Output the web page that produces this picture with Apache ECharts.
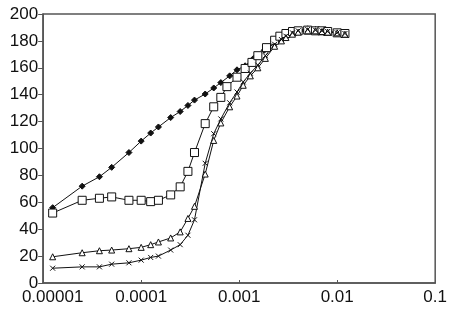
<!DOCTYPE html>
<html>
<head>
<meta charset="utf-8">
<script src="https://cdn.jsdelivr.net/npm/echarts@6/dist/echarts.min.js"></script>
<style>
  html, body { margin: 0; padding: 0; background: #fff; }
  #chart { width: 450px; height: 310px; }
</style>
</head>
<body>
<div id="chart"></div>
<script>
// tick labels
var xTickLabels = ['0.00001', '0.0001', '0.001', '0.01', '0.1'];
var yTicks = [0, 20, 40, 60, 80, 100, 120, 140, 160, 180, 200];

// diamonds (filled)
var diamondX = [1.25e-5, 2.5e-5, 3.75e-5, 5e-5, 7.5e-5, 1e-4, 1.25e-4, 1.5e-4, 2e-4, 2.5e-4, 3e-4, 3.5e-4, 4.5e-4, 5.5e-4, 6.5e-4, 8e-4, 9.5e-4, 1.15e-3, 1.4e-3, 1.8e-3, 2.3e-3, 2.8e-3, 3.5e-3, 4e-3, 5e-3, 6e-3, 7e-3, 8e-3, 1e-2, 1.2e-2];
var diamondY = [56, 72, 79, 86, 97, 105.5, 111.5, 116, 123, 127.5, 132, 136, 140.5, 145, 149, 154, 158.5, 161.5, 167, 173, 178, 183, 186, 188, 189, 188.5, 188, 187, 186, 185];

// squares (open)
var squareX = [1.25e-5, 2.5e-5, 3.75e-5, 5e-5, 7.5e-5, 1e-4, 1.25e-4, 1.5e-4, 2e-4, 2.5e-4, 3e-4, 3.5e-4, 4.5e-4, 5.5e-4, 6.5e-4, 7.5e-4, 9.5e-4, 1.15e-3, 1.35e-3, 1.55e-3, 1.9e-3, 2.3e-3, 2.6e-3, 3e-3, 3.5e-3, 4e-3, 5e-3, 6e-3, 7e-3, 8e-3, 1e-2, 1.2e-2];
var squareY = [52, 61.5, 63, 64, 61.5, 61.5, 60.5, 61.5, 65.5, 71.5, 83, 97, 118.5, 131, 138, 146, 153, 159.5, 164, 169, 175, 180.5, 183.5, 185.5, 187, 187.5, 188, 187.5, 187.5, 187, 186, 185.5];

// triangles and crosses share x positions
var lowX = [1.25e-5, 2.5e-5, 3.75e-5, 5e-5, 7.5e-5, 1e-4, 1.25e-4, 1.5e-4, 2e-4, 2.5e-4, 3e-4, 3.5e-4, 4.5e-4, 5.5e-4, 6.5e-4, 8e-4, 9.5e-4, 1.1e-3, 1.3e-3, 1.55e-3, 1.85e-3, 2.3e-3, 2.7e-3, 3e-3, 3.5e-3, 4e-3, 5e-3, 6e-3, 7e-3, 8e-3, 1e-2, 1.2e-2];
var triangleY = [19.5, 22.5, 24, 24.5, 25.5, 26.5, 28.5, 30.5, 33.5, 38, 48, 57, 81, 106, 119, 131, 139, 147, 154, 160, 167, 176, 180, 182.5, 185, 186.5, 187.5, 187.5, 187, 186.5, 186, 185];
var crossY = [11, 12, 12, 14, 15, 17, 19, 20, 24.5, 28.5, 35.5, 47, 89, 111, 122, 134, 142, 149.5, 156, 162, 169, 177.5, 181, 183.5, 186, 187.5, 188.5, 188, 187.5, 187, 186, 185.5];

function pairs(xs, ys) {
	return xs.map(function(x, i) { return [x, ys[i]]; });
}

var font = 'Liberation Sans, Arial, sans-serif';
var lineStyle = { color: '#111', width: 1 };

function makeSeries(name, xs, ys, symbol, size, fill) {
	return {
		name: name,
		type: 'line',
		data: pairs(xs, ys),
		symbol: symbol,
		symbolSize: size,
		showAllSymbol: true,
		lineStyle: lineStyle,
		itemStyle: { color: fill, borderColor: '#111', borderWidth: 1 },
		emphasis: { disabled: true },
		z: 3
	};
}

var myChart = echarts.init(document.getElementById('chart'), null, { renderer: 'canvas' });
var option = {
	animation: false,
	backgroundColor: '#fff',
	grid: {
		left: 38,
		right: 11,
		top: 14,
		bottom: 27,
		show: true,
		borderColor: '#555',
		borderWidth: 1.5
	},
	xAxis: {
		type: 'log',
		logBase: 10,
		min: 0.00001,
		max: 0.1,
		axisLine: { show: true, lineStyle: { color: '#555', width: 1.5 } },
		axisTick: { show: true, inside: true, length: 3, lineStyle: { color: '#555' } },
		minorTick: { show: false },
		splitLine: { show: false },
		axisLabel: {
			color: '#111',
			fontSize: 17,
			fontFamily: font,
			margin: 6,
			formatter: function(v) {
				var i = Math.round(Math.log10(v)) + 5;
				// first label sits a little right of its tick, as in the source
				if (i === 0) return '    ' + xTickLabels[0];
				return xTickLabels[i];
			}
		}
	},
	yAxis: {
		type: 'value',
		min: yTicks[0],
		max: yTicks[yTicks.length - 1],
		interval: 20,
		axisLine: { show: true, lineStyle: { color: '#555', width: 1.5 } },
		axisTick: { show: true, inside: false, length: 5, lineStyle: { color: '#555' } },
		splitLine: { show: false },
		axisLabel: {
			color: '#111',
			fontSize: 17,
			fontFamily: font,
			margin: 5
		}
	},
	series: [
		makeSeries('diamond', diamondX, diamondY, 'diamond', 6, '#111'),
		makeSeries('square', squareX, squareY, 'rect', 8, '#fff'),
		makeSeries('triangle', lowX, triangleY, 'triangle', 6, '#fff'),
		makeSeries('cross', lowX, crossY, 'path://M0,0L10,10M10,0L0,10', 5, 'none')
	]
};
myChart.setOption(option);
</script>
</body>
</html>
